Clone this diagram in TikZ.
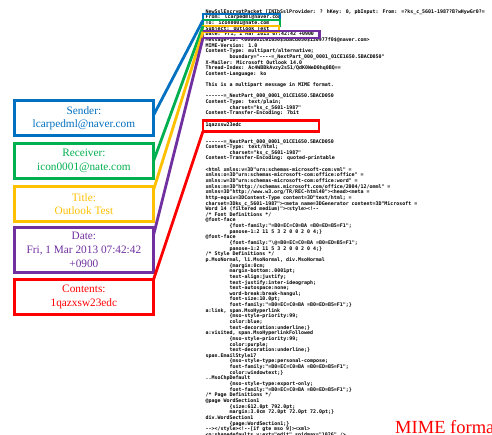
\documentclass[tikz,border=0pt]{standalone}
\usepackage{fontspec}
\setmainfont{Liberation Serif}
\newfontfamily\hdrfont{DejaVu Sans Mono}
\usetikzlibrary{calc}
\definecolor{cblue}{HTML}{0070C0}
\definecolor{cgreen}{HTML}{00B050}
\definecolor{cyellow}{HTML}{FFC000}
\definecolor{cpurple}{HTML}{7030A0}
\definecolor{cred}{HTML}{FF0000}
\newcommand\tb{\hspace*{24pt}}
\newcommand\hl[2]{\node[hdrtxt] (l#1) at (205.5,{13.3+(#1-1)*5.64}) {#2};}
\tikzset{
  hdrtxt/.style={anchor=base west, inner sep=0pt, font=\hdrfont\bfseries\fontsize{4.95}{5.6}\selectfont},
  lbox/.style={draw, line width=3pt, minimum width=139.3pt, align=center, inner sep=0pt, outer sep=0pt, font=\fontsize{11.3}{13.5}\selectfont},
  hbox/.style={draw, line width=2pt, inner sep=0pt, outer sep=0pt, anchor=north west},
  conn/.style={line width=2.8pt},
}
\begin{document}
\begin{tikzpicture}[x=1pt,y=-1pt]
\useasboundingbox (0,0) rectangle (492,435);
\clip (0,0) rectangle (492,435);
\fill[white] (0,0) rectangle (492,435);
% header text
\hl{1}{NewSslEncryptPacket [INIbSslProvider: ? hKey: 0, pbInput: From: =?ks\_c\_5601-1987?B?wHywGr0?=}
\hl{2}{From: lcarpedml@naver.com}
\hl{3}{To: icon0001@nate.com}
\hl{4}{Subject: Outlook Test}
\hl{5}{Date: Fri, 1 Mar 2013 07:42:42 +0900}
\hl{6}{Message-ID: <000001ce1650\$5bacd050\$130977f0\$@naver.com>}
\hl{7}{MIME-Version: 1.0}
\hl{8}{Content-Type: multipart/alternative;}
\hl{9}{\tb boundary="----=\_NextPart\_000\_0001\_01CE1650.5BACD050"}
\hl{10}{X-Mailer: Microsoft Outlook 14.0}
\hl{11}{Thread-Index: Ac4WBBkAvzy2s51/QdK0WeD0hq0BQ==}
\hl{12}{Content-Language: ko}
\hl{14}{This is a multipart message in MIME format.}
\hl{16}{------=\_NextPart\_000\_0001\_01CE1650.5BACD050}
\hl{17}{Content-Type: text/plain;}
\hl{18}{\tb charset="ks\_c\_5601-1987"}
\hl{19}{Content-Transfer-Encoding: 7bit}
\hl{21}{1qazxsw23edc}
\hl{24}{------=\_NextPart\_000\_0001\_01CE1650.5BACD050}
\hl{25}{Content-Type: text/html;}
\hl{26}{\tb charset="ks\_c\_5601-1987"}
\hl{27}{Content-Transfer-Encoding: quoted-printable}
\hl{29}{<html xmlns:v=3D"urn:schemas-microsoft-com:vml" =}
\hl{30}{xmlns:o=3D"urn:schemas-microsoft-com:office:office" =}
\hl{31}{xmlns:w=3D"urn:schemas-microsoft-com:office:word" =}
\hl{32}{xmlns:m=3D"http://schemas.microsoft.com/office/2004/12/omml" =}
\hl{33}{xmlns=3D"http://www.w3.org/TR/REC-html40"><head><meta =}
\hl{34}{http-equiv=3DContent-Type content=3D"text/html; =}
\hl{35}{charset=3Dks\_c\_5601-1987"><meta name=3DGenerator content=3D"Microsoft =}
\hl{36}{Word 14 (filtered medium)"><style><!--}
\hl{37}{/* Font Definitions */}
\hl{38}{@font-face}
\hl{39}{\tb\{font-family:"=B0=EC=C0=BA =B0=ED=B5=F1";}
\hl{40}{\tb panose-1:2 11 5 3 2 0 0 2 0 4;\}}
\hl{41}{@font-face}
\hl{42}{\tb\{font-family:"\textbackslash @=B0=EC=C0=BA =B0=ED=B5=F1";}
\hl{43}{\tb panose-1:2 11 5 3 2 0 0 2 0 4;\}}
\hl{44}{/* Style Definitions */}
\hl{45}{p.MsoNormal, li.MsoNormal, div.MsoNormal}
\hl{46}{\tb\{margin:0cm;}
\hl{47}{\tb margin-bottom:.0001pt;}
\hl{48}{\tb text-align:justify;}
\hl{49}{\tb text-justify:inter-ideograph;}
\hl{50}{\tb text-autospace:none;}
\hl{51}{\tb word-break:break-hangul;}
\hl{52}{\tb font-size:10.0pt;}
\hl{53}{\tb font-family:"=B0=EC=C0=BA =B0=ED=B5=F1";\}}
\hl{54}{a:link, span.MsoHyperlink}
\hl{55}{\tb\{mso-style-priority:99;}
\hl{56}{\tb color:blue;}
\hl{57}{\tb text-decoration:underline;\}}
\hl{58}{a:visited, span.MsoHyperlinkFollowed}
\hl{59}{\tb\{mso-style-priority:99;}
\hl{60}{\tb color:purple;}
\hl{61}{\tb text-decoration:underline;\}}
\hl{62}{span.EmailStyle17}
\hl{63}{\tb\{mso-style-type:personal-compose;}
\hl{64}{\tb font-family:"=B0=EC=C0=BA =B0=ED=B5=F1";}
\hl{65}{\tb color:windowtext;\}}
\hl{66}{..MsoChpDefault}
\hl{67}{\tb\{mso-style-type:export-only;}
\hl{68}{\tb font-family:"=B0=EC=C0=BA =B0=ED=B5=F1";\}}
\hl{69}{/* Page Definitions */}
\hl{70}{@page WordSection1}
\hl{71}{\tb\{size:612.0pt 792.0pt;}
\hl{72}{\tb margin:3.0cm 72.0pt 72.0pt 72.0pt;\}}
\hl{73}{div.WordSection1}
\hl{74}{\tb\{page:WordSection1;\}}
\hl{75}{--></style><!--[if gte mso 9]><xml>}
\hl{76}{<o:shapedefaults v:ext="edit" spidmax="1026" />}
% highlight boxes on the header
\node[hbox, draw=cblue, minimum width=77pt, minimum height=6.2pt] (hfrom) at (203,14) {};
\node[hbox, draw=cgreen, minimum width=77pt, minimum height=6.2pt] (hto) at (203,19.9) {};
\node[hbox, draw=cyellow, minimum width=76pt, minimum height=6.2pt] (hsubj) at (203,25.6) {};
\node[hbox, draw=cpurple, line width=2.2pt, minimum width=116.5pt, minimum height=6.6pt] (hdate) at (203,31.2) {};
\node[hbox, draw=cred, line width=2.6pt, minimum width=116pt, minimum height=10.5pt] (hbody) at (203,120.8) {};
% left boxes
\node[lbox, draw=cblue, text=cblue, minimum height=35.3pt] (sender) at (83.9,118.2) {Sender:\\lcarpedml@naver.com};
\node[lbox, draw=cgreen, text=cgreen, minimum height=35.3pt] (receiver) at (83.9,160.9) {Receiver:\\icon0001@nate.com};
\node[lbox, draw=cyellow, text=cyellow, minimum height=34.7pt] (title) at (83.9,203.9) {Title:\\Outlook Test};
\node[lbox, draw=cpurple, text=cpurple, minimum height=45pt, font=\fontsize{11.3}{14.2}\selectfont] (date) at (83.9,250) {Date:\\Fri, 1 Mar 2013 07:42:42\\+0900};
\node[lbox, draw=cred, text=cred, minimum height=35pt] (contents) at (83.9,297) {Contents:\\1qazxsw23edc};
% connectors
\draw[conn, cblue] ([yshift=3pt]sender.east) -- (hfrom.south west);
\draw[conn, cgreen] (receiver.east) -- (hto.south west);
\draw[conn, cyellow] ([yshift=14pt]title.east) -- (hsubj.south west);
\draw[conn, cpurple] ([yshift=15pt]date.east) -- (hdate.south west);
\draw[conn, cred] (contents.north east) -- (hbody.south west);
% caption
\node[anchor=base west, inner sep=0pt, text=cred, font=\fontsize{18.5}{20}\selectfont] (mime) at (395,433) {MIME format};
\end{tikzpicture}
\end{document}
